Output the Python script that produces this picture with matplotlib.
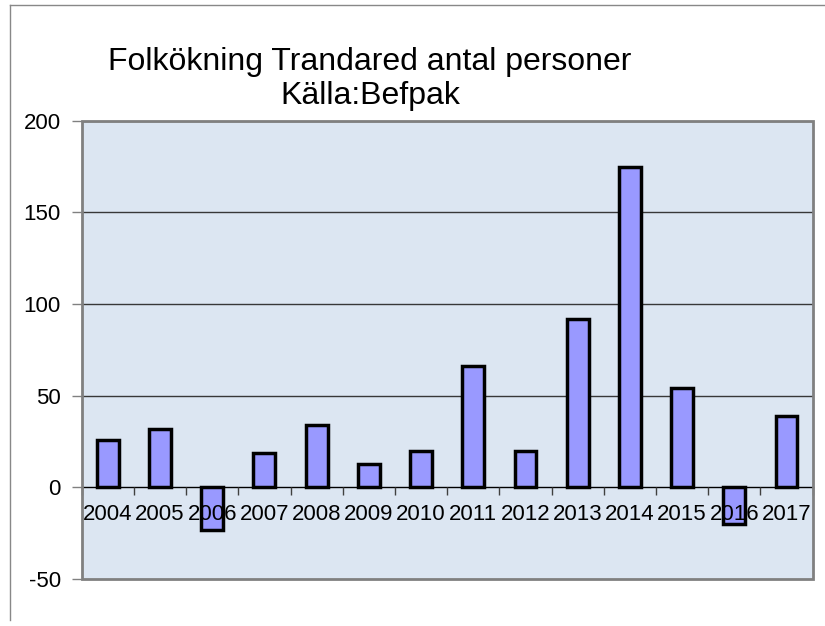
import matplotlib
matplotlib.use("Agg")
import matplotlib.pyplot as plt
from matplotlib.lines import Line2D
from matplotlib.patches import Rectangle
import numpy as np

years = ["2004", "2005", "2006", "2007", "2008", "2009", "2010",
         "2011", "2012", "2013", "2014", "2015", "2016", "2017"]
growth = [26, 32, -23, 19, 34, 13, 20, 66, 20, 92, 175, 54, -20, 39]
y_ticks = [-50, 0, 50, 100, 150, 200]

plt.rcParams['font.family'] = ['Liberation Sans', 'DejaVu Sans']

fig = plt.figure(figsize=(8.25, 6.26), dpi=100)
ax = fig.add_axes([0.099, 0.075, 0.886, 0.732])
ax.set_facecolor('#dce6f2')

x = np.arange(len(years))
ax.bar(x, growth, width=0.42, color='#9999ff', edgecolor='black', linewidth=2.5, zorder=2)

ax.set_xlim(-0.5, len(years) - 0.5)
ax.set_ylim(-50, 200)
ax.set_yticks(y_ticks)
ax.set_yticklabels([str(v) for v in y_ticks], fontsize=16)
ax.tick_params(axis='y', direction='out', length=7, width=1, color='#808080', pad=8)

# gridlines
for v in y_ticks[2:]:
    ax.axhline(v, color='#383838', linewidth=1, zorder=1)

# x axis on the zero line, labels drawn over the bars
ax.spines['bottom'].set_position(('data', 0))
ax.spines['bottom'].set_color('black')
ax.spines['bottom'].set_linewidth(1)
ax.spines['bottom'].set_zorder(4)
ax.xaxis.set_zorder(4)
ax.set_xticks(x)
ax.set_xticklabels(years, fontsize=16)
ax.set_xticks(np.arange(-0.5, len(years)), minor=True)
ax.tick_params(axis='x', which='major', length=0, pad=12)
ax.tick_params(axis='x', which='minor', direction='out', length=6, width=1, color='#404040')

for side in ['left', 'right', 'top']:
    ax.spines[side].set_visible(False)

# plot area border
ax.add_patch(Rectangle((0, 0), 1, 1, transform=ax.transAxes, fill=False,
                       edgecolor='#808080', linewidth=2, clip_on=False, zorder=5))

# chart area border (left and top visible)
fig.add_artist(Line2D([10 / 825, 10 / 825], [1 - 5 / 626, 1 - 620 / 626], color='#888888', linewidth=1))
fig.add_artist(Line2D([10 / 825, 1.0], [1 - 5 / 626, 1 - 5 / 626], color='#888888', linewidth=1))

fig.text(370 / 825, 1 - 62 / 626, "Folkökning Trandared antal personer",
         ha='center', va='center', fontsize=23)
fig.text(370 / 825, 1 - 96 / 626, "Källa:Befpak",
         ha='center', va='center', fontsize=23)

fig.savefig("out.png", dpi=100)
